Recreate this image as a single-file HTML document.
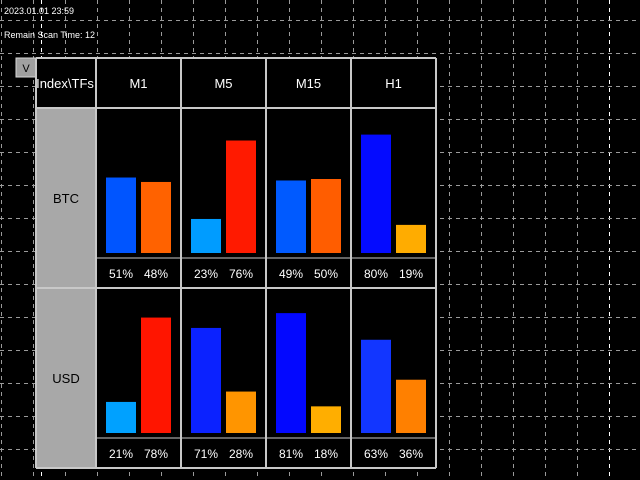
<!DOCTYPE html>
<html><head><meta charset="utf-8"><style>
html,body{margin:0;padding:0;background:#000;width:640px;height:480px;overflow:hidden}
svg{display:block}
text{font-family:"Liberation Sans",sans-serif}
</style></head><body>
<svg id="c" width="640" height="480" xmlns="http://www.w3.org/2000/svg">
<rect width="640" height="480" fill="#000"/>
<g id="grid"></g>
<text x="4" y="14" font-size="9" fill="#fff">2023.01.01 23:59</text>
<text x="4" y="38" font-size="9" fill="#fff">Remain Scan Time: 12</text>
<g id="table"></g>
</svg>
<script>
const indices = ["BTC","USD"];
const timeframes = ["M1","M5","M15","H1"];
const buyPct = [[51,23,49,80],[21,71,81,63]];
const sellPct = [[48,76,50,19],[78,28,18,36]];

const NS="http://www.w3.org/2000/svg";
function mk(tag,attrs,parent){const e=document.createElementNS(NS,tag);for(const k in attrs)e.setAttribute(k,attrs[k]);parent.appendChild(e);return e;}
const grid=document.getElementById('grid');
for(let x=1;x<640;x+=32){
  const l=mk('line',{x1:x+0.5,y1:0,x2:x+0.5,y2:480,stroke:(x===609?'#fff':'#9a9a9a'),'stroke-dasharray':'4,4','stroke-width':1},grid);
  
  
}
{const l=mk('line',{x1:41.5,y1:0,x2:41.5,y2:480,stroke:'#fff','stroke-dasharray':'4,4'},grid);

}
for(let y=20;y<480;y+=33){
  const l=mk('line',{x1:0,y1:y+0.5,x2:640,y2:y+0.5,stroke:'#9a9a9a','stroke-dasharray':'4,4'},grid);
  
  
}
const T=document.getElementById('table');
const colX=[36,96,181,266,351,436];
const rowY=[58,108,288,468];
const border='#c8c8c8';
// backgrounds
mk('rect',{x:36,y:58,width:400,height:410,fill:'#000'},T);
{const r=mk('rect',{x:36,y:108,width:60,height:360,fill:'#a8a8a8'},T);

}
// button
{const b=mk('rect',{x:16,y:58,width:20,height:19,fill:'#a0a0a0',stroke:'#d8d8d8','stroke-width':1},T);


const t=mk('text',{x:26,y:72,'font-size':11,fill:'#000','text-anchor':'middle'},T);t.textContent='V';

}
// header
{const t=mk('text',{x:65,y:88,'font-size':13,fill:'#fff','text-anchor':'middle'},T);t.textContent='Index\\TFs';

}
timeframes.forEach((tf,i)=>{
  const t=mk('text',{x:(colX[i+1]+colX[i+2])/2,y:88,'font-size':13,fill:'#fff','text-anchor':'middle'},T);t.textContent=tf;
  
  
});
function buyColor(p){const g=Math.max(0,Math.round(255*(1-p/100)-40));return `rgb(${g<60?Math.round(g/3):0},${g},255)`;}
function sellColor(p){const g=Math.max(0,Math.round(255*(1-p/100)-35));return `rgb(255,${g},0)`;}
const scale=1.48;
indices.forEach((name,r)=>{
  const top=rowY[r+1], bot=rowY[r+2];
  const base=bot-35;
  const t=mk('text',{x:66,y:(top+bot)/2-(r?0:0)+5,'font-size':13,fill:'#000','text-anchor':'middle'},T);t.textContent=name;
  
  
  timeframes.forEach((tf,c)=>{
    const x0=colX[c+1];
    const b=buyPct[r][c], s=sellPct[r][c];
    const hb=b*scale, hs=s*scale;
    const rb=mk('rect',{x:x0+10,y:base-hb,width:30,height:hb,fill:buyColor(b)},T);
    
    
    const rs=mk('rect',{x:x0+45,y:base-hs,width:30,height:hs,fill:sellColor(s)},T);
    
    
    const tb=mk('text',{x:x0+25,y:bot-10,'font-size':12,fill:'#fff','text-anchor':'middle'},T);tb.textContent=b+'%';
    
    
    const ts=mk('text',{x:x0+60,y:bot-10,'font-size':12,fill:'#fff','text-anchor':'middle'},T);ts.textContent=s+'%';
    
    
    const sep=mk('line',{x1:x0,y1:bot-30,x2:colX[c+2],y2:bot-30,stroke:border,'stroke-width':1},T);
    
    
  });
});
// borders
colX.forEach(x=>{const l=mk('line',{x1:x,y1:58,x2:x,y2:468,stroke:border,'stroke-width':2},T);

});
rowY.forEach(y=>{const l=mk('line',{x1:36,y1:y,x2:436,y2:y,stroke:border,'stroke-width':2},T);

});
</script>
</body></html>
